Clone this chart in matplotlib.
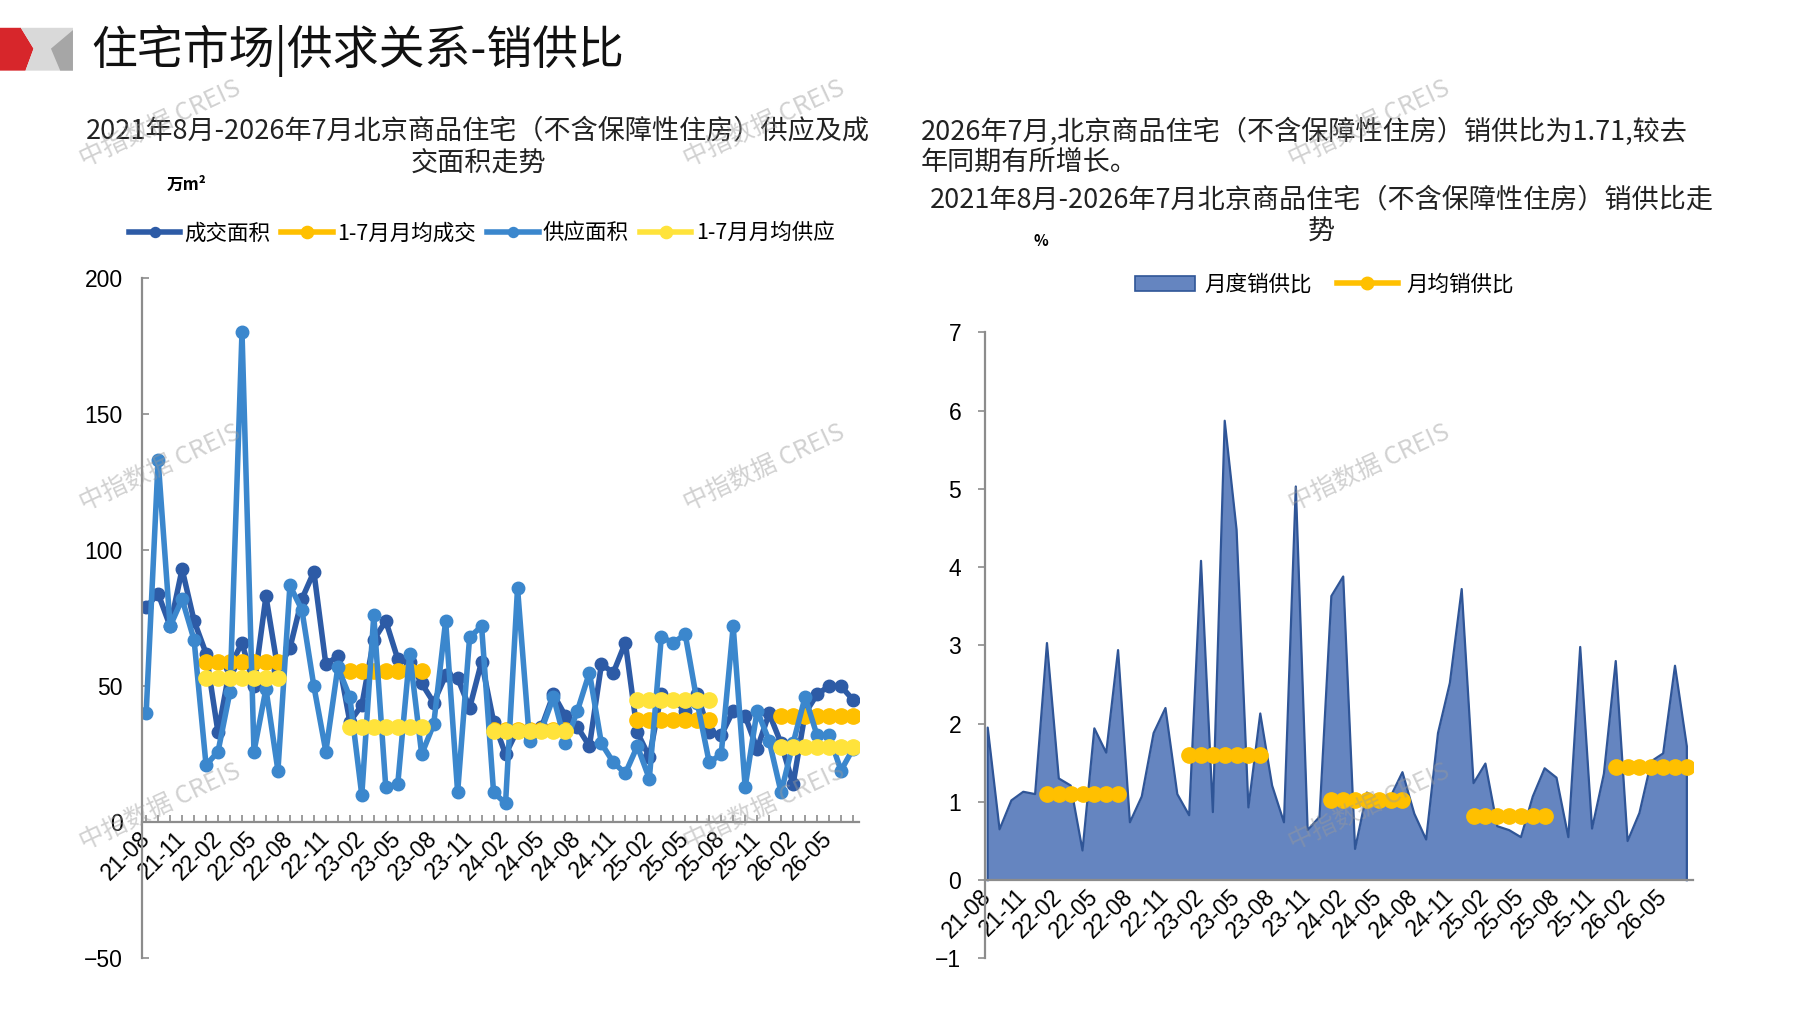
import numpy as np
import matplotlib
matplotlib.use('Agg')
import matplotlib.pyplot as plt
from matplotlib.patches import Polygon, Patch
from matplotlib.lines import Line2D

CJK = ['Noto Sans CJK SC', 'DejaVu Sans']
NUM = ['Liberation Sans', 'DejaVu Sans']
plt.rcParams['font.family'] = CJK
plt.rcParams['axes.unicode_minus'] = True

# ── data ─────────────────────────────────────────────────────────────────────
# 60 months, 2021-08 .. 2026-07
months = [f'{(2021 + (7 + k) // 12) % 100:02d}-{(7 + k) % 12 + 1:02d}' for k in range(60)]
tick_labels = months[::3]

deal_area = [79, 84, 72, 93, 74, 62, 33, 57, 66, 50,
             83, 56, 64, 82, 92, 58, 61, 37, 43, 67,
             74, 60, 59, 51, 44, 54, 53, 42, 59, 37,
             25, 34, 32, 35, 47, 39, 35, 28, 58, 55,
             66, 33, 24, 47, 45, 41, 47, 33, 32, 41,
             39, 27, 40, 29, 14, 40, 47, 50, 50, 45]

supply_area = [40, 133, 72, 82, 67, 21, 26, 48, 180, 26,
               49, 19, 87, 78, 50, 26, 57, 46, 10, 76,
               13, 14, 62, 25, 36, 74, 11, 68, 72, 11,
               7, 86, 30, 34, 46, 29, 41, 55, 29, 22,
               18, 28, 16, 68, 66, 69, 44, 22, 25, 72,
               13, 41, 30, 11, 29, 46, 32, 32, 19, 27]

ratio = [1.95, 0.65, 1.02, 1.13, 1.10, 3.03, 1.30, 1.21, 0.38, 1.94,
         1.63, 2.94, 0.74, 1.07, 1.88, 2.20, 1.10, 0.83, 4.08, 0.87,
         5.87, 4.48, 0.93, 2.13, 1.21, 0.74, 5.03, 0.64, 0.81, 3.63,
         3.88, 0.40, 1.12, 1.02, 1.07, 1.38, 0.85, 0.52, 1.88, 2.52,
         3.72, 1.24, 1.49, 0.69, 0.64, 0.55, 1.07, 1.43, 1.31, 0.55,
         2.98, 0.66, 1.36, 2.80, 0.50, 0.86, 1.52, 1.62, 2.74, 1.71]

# Jan-Jul monthly averages per year
avg_years = ['22', '23', '24', '25', '26']
deal_avg = [59, 55.5, 34, 37.5, 39]
supply_avg = [53, 35, 33.5, 45, 27.5]
ratio_avg = [1.10, 1.60, 1.02, 0.82, 1.45]

C_DEAL = '#2D5BA6'
C_SUPPLY = '#3B87CD'
C_DEAL_AVG = '#FFC000'
C_SUPPLY_AVG = '#FFE33B'
C_AREA = '#6585C0'
C_AREA_EDGE = '#2F5597'
C_SPINE = '#8C8C8C'
W, H = 1797, 1010
TXT = 19.5
TICK = 16.5


def band(vals):
    """Spread yearly Jan-Jul values onto the month axis (NaN elsewhere)."""
    arr = np.full(len(months), np.nan)
    for yy, v in zip(avg_years, vals):
        for k, m in enumerate(months):
            if m[:2] == yy and int(m[3:]) <= 7:
                arr[k] = v
    return arr


def fx(px):
    return px / W


def fy(py):
    return 1 - py / H


def style_ticks(a):
    for lab in a.get_xticklabels():
        lab.set_rotation(45)
        lab.set_ha('right')
        lab.set_va('center')
        lab.set_rotation_mode('anchor')
        lab.set_family(NUM)
    for lab in a.get_yticklabels():
        lab.set_family(NUM)


x = np.arange(len(months))

fig = plt.figure(figsize=(W / 100, H / 100), dpi=100)

# ── header / logo ────────────────────────────────────────────────────────────
s = 1.158
logo_red = [(0, 24), (18, 24), (29, 42), (22, 61), (0, 61)]
logo_light = [(18, 24), (63, 24), (63, 61), (22, 61), (29, 42)]
logo_dark = [(44, 42), (63, 26), (63, 61), (52, 61)]
for pts, col in [(logo_red, '#D7262B'), (logo_light, '#D9D9D9'), (logo_dark, '#A6A6A6')]:
    fig.add_artist(Polygon([(fx(a * s), fy(b * s)) for a, b in pts], closed=True,
                           transform=fig.transFigure, facecolor=col, edgecolor='none'))

fig.text(0.051, 0.950, '住宅市场|供求关系-销供比', fontsize=33, va='center', ha='left',
         color='#111111')

# watermarks
for wx in (0.089, 0.425, 0.762):
    for wy in (0.877, 0.537, 0.201):
        fig.text(wx, wy, '中指数据 CREIS', fontsize=18, rotation=25, ha='center',
                 va='center', color='#9A9A9A', alpha=0.45, zorder=10)

# ── left chart ───────────────────────────────────────────────────────────────
fig.text(0.266, 0.870, '2021年8月-2026年7月北京商品住宅（不含保障性住房）供应及成',
         fontsize=TXT, ha='center', va='center', color='#222222')
fig.text(0.266, 0.838, '交面积走势', fontsize=TXT, ha='center', va='center', color='#222222')
fig.text(0.104, 0.817, '万m²', fontsize=12, ha='center', va='center', fontweight='bold')

ax = fig.add_axes([0.079, 0.051, 0.399, 0.674])
l1, = ax.plot(x, deal_area, color=C_DEAL, lw=4, marker='o', ms=9, label='成交面积')
l2, = ax.plot(x, band(deal_avg), color=C_DEAL_AVG, lw=4, marker='o', ms=11,
              label='1-7月月均成交')
l3, = ax.plot(x, supply_area, color=C_SUPPLY, lw=4, marker='o', ms=9, label='供应面积')
l4, = ax.plot(x, band(supply_avg), color=C_SUPPLY_AVG, lw=4, marker='o', ms=11,
              label='1-7月月均供应')

ax.set_xlim(-0.35, 59.5)
ax.set_ylim(-50, 200)
ax.set_yticks([-50, 0, 50, 100, 150, 200])
ax.set_xticks(x[::3])
ax.set_xticks(x, minor=True)
ax.set_xticklabels(tick_labels)
for side in ('top', 'right'):
    ax.spines[side].set_visible(False)
ax.spines['bottom'].set_position(('data', 0))
for side in ('left', 'bottom'):
    ax.spines[side].set_color(C_SPINE)
    ax.spines[side].set_linewidth(1.6)
ax.tick_params(axis='both', which='both', direction='in', length=5, color=C_SPINE,
               width=1.2, labelsize=TICK)
ax.tick_params(axis='y', pad=14)
ax.tick_params(axis='x', pad=9)
style_ticks(ax)

fig.legend([l1, l2, l3, l4], [h.get_label() for h in (l1, l2, l3, l4)],
           loc='center', bbox_to_anchor=(0.268, 0.769), ncol=4, frameon=False,
           fontsize=15.5, handlelength=2.4, handletextpad=0.2, columnspacing=0.5,
           markerscale=0.8)

# ── right chart ──────────────────────────────────────────────────────────────
fig.text(0.5125, 0.870, '2026年7月,北京商品住宅（不含保障性住房）销供比为1.71,较去',
         fontsize=TXT, ha='left', va='center', color='#222222')
fig.text(0.5125, 0.838, '年同期有所增长。', fontsize=TXT, ha='left', va='center',
         color='#222222')
fig.text(0.7355, 0.802, '2021年8月-2026年7月北京商品住宅（不含保障性住房）销供比走',
         fontsize=TXT, ha='center', va='center', color='#222222')
fig.text(0.7355, 0.770, '势', fontsize=TXT, ha='center', va='center', color='#222222')
fig.text(0.579, 0.761, '%', fontsize=11, ha='center', va='center', fontweight='bold')

ax2 = fig.add_axes([0.548, 0.051, 0.394, 0.620])
ax2.fill_between(x, ratio, 0, color=C_AREA, lw=0)
edge_x = np.concatenate([[x[0]], x, [x[-1]]])
edge_y = np.concatenate([[0], ratio, [0]])
ax2.plot(edge_x, edge_y, color=C_AREA_EDGE, lw=1.6)
ax2.plot(x, band(ratio_avg), color=C_DEAL_AVG, lw=4, marker='o', ms=11)

ax2.set_xlim(-0.25, 59.5)
ax2.set_ylim(-1, 7)
ax2.set_yticks(range(-1, 8))
ax2.set_xticks(x[::3])
ax2.set_xticklabels(tick_labels)
for side in ('top', 'right'):
    ax2.spines[side].set_visible(False)
ax2.spines['bottom'].set_position(('data', 0))
for side in ('left', 'bottom'):
    ax2.spines[side].set_color(C_SPINE)
    ax2.spines[side].set_linewidth(1.6)
ax2.tick_params(axis='y', direction='out', length=5, color=C_SPINE, width=1.2,
                labelsize=TICK, pad=12)
ax2.tick_params(axis='x', length=0, labelsize=TICK, pad=9)
style_ticks(ax2)

h_area = Patch(facecolor=C_AREA, edgecolor=C_AREA_EDGE, lw=1.2)
h_avg = Line2D([], [], color=C_DEAL_AVG, lw=4, marker='o', ms=9)
fig.legend([h_area, h_avg], ['月度销供比', '月均销供比'], loc='center',
           bbox_to_anchor=(0.737, 0.718), ncol=2, frameon=False, fontsize=15.5,
           handlelength=2.8, handleheight=0.7, handletextpad=0.4, columnspacing=1.2)

fig.savefig('out.png', dpi=100)
